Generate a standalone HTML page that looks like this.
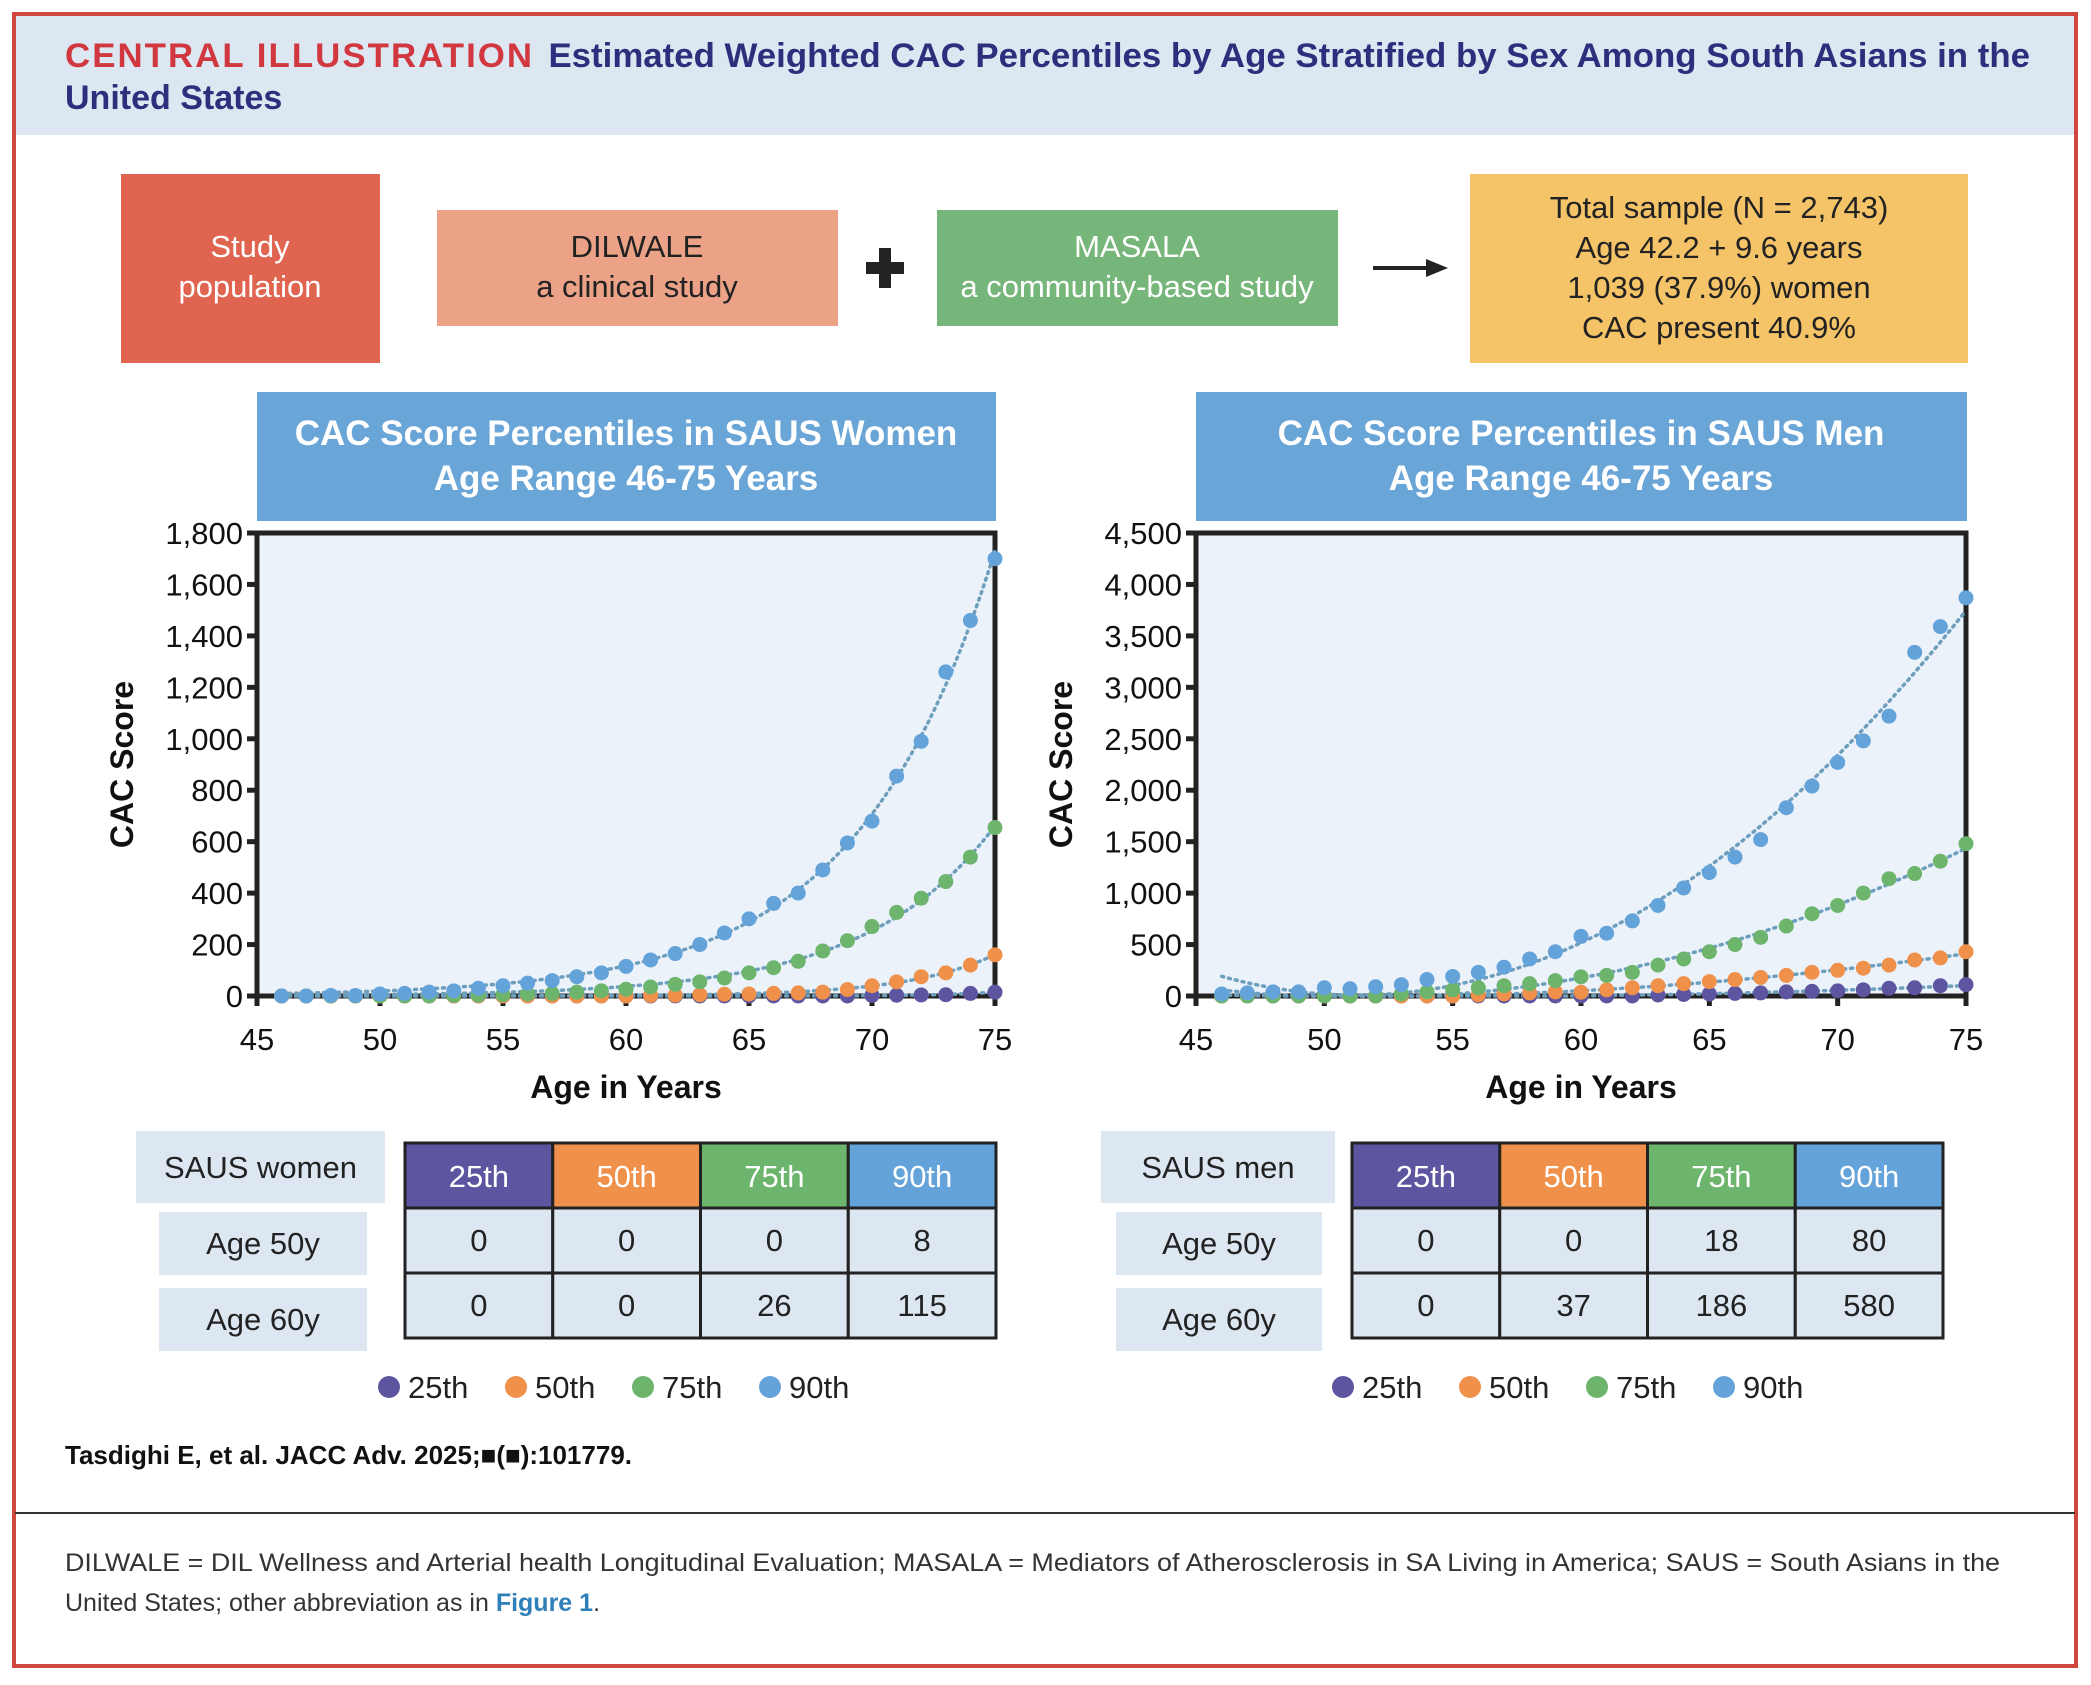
<!DOCTYPE html>
<html><head><meta charset="utf-8"><style>
html,body{margin:0;padding:0;background:#fff;}
svg{display:block;font-family:"Liberation Sans",sans-serif;}
</style></head><body>
<svg id="root" width="2091" height="1685" viewBox="0 0 2091 1685" xmlns="http://www.w3.org/2000/svg">
<rect x="0" y="0" width="2091" height="1685" fill="#fff"/>
<rect x="15" y="15" width="2060" height="120" fill="#dde7f2"/>
<rect x="14" y="14" width="2062" height="1652" fill="none" stroke="#d0473f" stroke-width="4"/>
<text x="65" y="67" font-size="34" font-weight="bold" textLength="1965" lengthAdjust="spacingAndGlyphs"><tspan fill="#d0373f" letter-spacing="2">CENTRAL ILLUSTRATION</tspan><tspan fill="#2b2f7c" dx="14">Estimated Weighted CAC Percentiles by Age Stratified by Sex Among South Asians in the</tspan></text>
<text x="65" y="109" font-size="34" font-weight="bold" fill="#2b2f7c">United States</text>

<rect x="121" y="174" width="259" height="189" fill="#e06550"/>
<text x="250" y="257" font-size="31" fill="#fff" text-anchor="middle">Study</text>
<text x="250" y="297" font-size="31" fill="#fff" text-anchor="middle">population</text>
<rect x="437" y="210" width="401" height="116" fill="#eca287"/>
<text x="637" y="257" font-size="31" fill="#222" text-anchor="middle">DILWALE</text>
<text x="637" y="297" font-size="31" fill="#222" text-anchor="middle">a clinical study</text>
<path d="M866 262h38v12h-38z M879 248h12v40h-12z" fill="#222"/>
<rect x="937" y="210" width="401" height="116" fill="#77b67a"/>
<text x="1137" y="257" font-size="31" fill="#fff" text-anchor="middle">MASALA</text>
<text x="1137" y="297" font-size="31" fill="#fff" text-anchor="middle">a community-based study</text>
<g><line x1="1373" y1="268" x2="1430" y2="268" stroke="#222" stroke-width="4"/><path d="M1448 268 L1426 259 L1426 277 Z" fill="#222"/></g>
<rect x="1470" y="174" width="498" height="189" fill="#f5c368"/>
<g font-size="31" fill="#222" text-anchor="middle">
<text x="1719" y="218">Total sample (N = 2,743)</text>
<text x="1719" y="258">Age 42.2 + 9.6 years</text>
<text x="1719" y="298">1,039 (37.9%) women</text>
<text x="1719" y="338">CAC present 40.9%</text>
</g>

<g id="charts"></g>

<text x="65" y="1464" font-size="26" font-weight="bold" fill="#111">Tasdighi E, et al. JACC Adv. 2025;■(■):101779.</text>
<line x1="15" y1="1513" x2="2075" y2="1513" stroke="#333" stroke-width="2"/>
<text x="65" y="1571" font-size="25" fill="#333" textLength="1935" lengthAdjust="spacingAndGlyphs">DILWALE = DIL Wellness and Arterial health Longitudinal Evaluation; MASALA = Mediators of Atherosclerosis in SA Living in America; SAUS = South Asians in the</text>
<text x="65" y="1611" font-size="25" fill="#333">United States; other abbreviation as in <tspan fill="#2f7fb8" font-weight="bold">Figure 1</tspan>.</text>
</svg>
<script>
const ages = [46,47,48,49,50,51,52,53,54,55,56,57,58,59,60,61,62,63,64,65,66,67,68,69,70,71,72,73,74,75];
const women25 = [0,0,0,0,0,0,0,0,0,0,0,0,0,0,0,0,0,0,0,0,0,0,0,0,2,3,4,5,10,15];
const women50 = [0,0,0,0,0,0,0,0,0,0,0,0,0,0,0,2,3,5,7,8,10,12,15,25,40,55,75,90,120,160];
const women75 = [0,0,0,0,0,0,0,2,3,5,8,10,15,20,26,35,45,55,70,90,110,135,175,215,270,325,380,445,540,655];
const women90 = [0,0,2,2,8,10,15,20,30,40,50,60,75,90,115,140,165,200,245,300,360,400,490,595,680,855,990,1260,1460,1700];
const men25 = [0,0,0,0,0,0,0,0,0,0,0,0,0,0,0,0,0,10,15,20,25,30,40,45,50,60,75,80,100,110];
const men50 = [0,0,0,0,0,0,0,0,0,0,10,20,30,40,37,60,80,100,120,140,160,180,200,230,250,270,300,350,370,430];
const men75 = [0,0,0,0,0,0,0,20,40,60,80,100,120,150,186,200,230,300,360,430,500,570,680,800,880,1000,1140,1190,1310,1480];
const men90 = [20,30,40,40,80,70,90,110,160,190,230,280,360,430,580,610,730,880,1050,1200,1350,1520,1830,2040,2270,2480,2720,3340,3590,3870];
const womenYTicks = [0,200,400,600,800,1000,1200,1400,1600,1800];
const menYTicks = [0,500,1000,1500,2000,2500,3000,3500,4000,4500];
const xTicks = [45,50,55,60,65,70,75];
const pctLabels = ["25th","50th","75th","90th"];
const womenTable = [[0,0,0,8],[0,0,26,115]];
const menTable = [[0,0,18,80],[0,37,186,580]];
const colors = ["#5e55a0","#f0914b","#6db56d","#64a3da"];
const NS = "http://www.w3.org/2000/svg";
const root = document.getElementById("charts");
function mk(tag, attrs, parent, text){const e=document.createElementNS(NS,tag);for(const k in attrs)e.setAttribute(k,attrs[k]);if(text!==undefined)e.textContent=text;(parent||root).appendChild(e);return e;}
function fmt(v){return v.toLocaleString("en-US");}
function solve(A,b){const n=b.length;for(let i=0;i<n;i++){let p=i;for(let r=i+1;r<n;r++)if(Math.abs(A[r][i])>Math.abs(A[p][i]))p=r;[A[i],A[p]]=[A[p],A[i]];[b[i],b[p]]=[b[p],b[i]];for(let r=i+1;r<n;r++){const f=A[r][i]/A[i][i];for(let c=i;c<n;c++)A[r][c]-=f*A[i][c];b[r]-=f*b[i];}}const x=new Array(n).fill(0);for(let i=n-1;i>=0;i--){let s=b[i];for(let c=i+1;c<n;c++)s-=A[i][c]*x[c];x[i]=s/A[i][i];}return x;}
function polyFit(xs,ys,deg,ws){const n=deg+1;const A=[],b=[];for(let i=0;i<n;i++){A.push(new Array(n).fill(0));b.push(0);}xs.forEach((x,k)=>{const w=ws?ws[k]:1;const t=(x-60)/15;for(let i=0;i<n;i++){b[i]+=w*ys[k]*Math.pow(t,i);for(let j=0;j<n;j++)A[i][j]+=w*Math.pow(t,i+j);}});const c=solve(A,b);return x=>{const t=(x-60)/15;let s=0;for(let i=0;i<n;i++)s+=c[i]*Math.pow(t,i);return s;};}
function expFit(xs,ys){const px=[],py=[],pw=[];xs.forEach((x,i)=>{if(ys[i]>0){px.push(x);py.push(Math.log(ys[i]));pw.push(ys[i]*ys[i]);}});const f=polyFit(px,py,1,pw);return x=>Math.exp(f(x));}

function chart(cfg){
  const g=mk("g",{});
  
  
  const L=cfg.left,R=cfg.right,T=533,B=996;
  const xS=a=>L+(a-45)/30*(R-L);
  const yS=v=>B-v/cfg.ymax*(B-T);
  const tb=mk("rect",{x:L,y:392,width:R-L+1,height:129,fill:"#6aa5d8"},g);
  
  
  const t1=mk("text",{x:(L+R)/2,y:445,"font-size":35,"font-weight":"bold",fill:"#fff","text-anchor":"middle"},g,cfg.title);
  
  
  const t2=mk("text",{x:(L+R)/2,y:490,"font-size":35,"font-weight":"bold",fill:"#fff","text-anchor":"middle"},g,"Age Range 46-75 Years");
  
  
  const pa=mk("rect",{x:L,y:T,width:R-L,height:B-T,fill:"#ecf2fa",stroke:"#222","stroke-width":5},g);
  
  
  cfg.yTicks.forEach(v=>{
    const tk=mk("line",{x1:L-10,x2:L,y1:yS(v),y2:yS(v),stroke:"#222","stroke-width":5},g);
    
    
    const tl=mk("text",{x:L-14,y:yS(v)+11,"font-size":31,fill:"#111","text-anchor":"end"},g,fmt(v));
    
    
  });
  xTicks.forEach(v=>{
    const tk=mk("line",{x1:xS(v),x2:xS(v),y1:B,y2:B+10,stroke:"#222","stroke-width":5},g);
    
    
    const tl=mk("text",{x:xS(v),y:1050,"font-size":31,fill:"#111","text-anchor":"middle"},g,v);
    
    
  });
  const xt=mk("text",{x:(L+R)/2,y:1098,"font-size":32,"font-weight":"bold",fill:"#111","text-anchor":"middle"},g,"Age in Years");
  
  
  const yt=mk("text",{x:0,y:0,"font-size":32,"font-weight":"bold",fill:"#111","text-anchor":"middle",transform:`translate(${L-124},${(T+B)/2}) rotate(-90)`},g,"CAC Score");
  
  
  cfg.series.forEach((s,si)=>{
    cfg.fitType==="exp"&&(s.f=expFit(ages,s.v));
    cfg.fitType==="poly"&&(s.f=polyFit(ages,s.v,2));
    let d="";
    for(let a=46;a<=75;a+=0.25){const v=Math.max(0,Math.min(cfg.ymax,s.f(a)));d+=(d?"L":"M")+xS(a).toFixed(1)+" "+yS(v).toFixed(1);}
    const tl=mk("path",{d:d,fill:"none",stroke:"#6d9fbd","stroke-width":3.5,"stroke-dasharray":"2 5","stroke-linecap":"round"},g);
    
    
  });
  cfg.series.forEach((s,si)=>{
    ages.forEach((a,i)=>{
      const c=mk("circle",{cx:xS(a),cy:yS(s.v[i]),r:7.5,fill:colors[si]},g);
      
      
    });
  });
  const tx=cfg.tableX, tw=591, cw=tw/4, ty=1143, rh=65;
  const lb=mk("rect",{x:cfg.labX,y:1131,width:cfg.labW,height:72,fill:"#dde7f2"},g);
  
  
  const lt=mk("text",{x:cfg.labX+cfg.labW/2,y:1178,"font-size":31,fill:"#222","text-anchor":"middle"},g,cfg.tableLabel);
  
  
  ["Age 50y","Age 60y"].forEach((r,ri)=>{
    const rb=mk("rect",{x:cfg.rowX,y:1212+ri*76,width:cfg.rowW,height:63,fill:"#dde7f2"},g);
    
    
    const rt=mk("text",{x:cfg.rowX+cfg.rowW/2,y:1254+ri*76,"font-size":31,fill:"#222","text-anchor":"middle"},g,r);
    
    
  });
  pctLabels.forEach((p,ci)=>{
    const h=mk("rect",{x:tx+ci*cw,y:ty,width:cw,height:rh,fill:colors[ci],stroke:"#222","stroke-width":3},g);
    
    
    const ht=mk("text",{x:tx+ci*cw+cw/2,y:ty+44,"font-size":31,fill:"#fff","text-anchor":"middle"},g,p);
    
    
    cfg.table.forEach((row,ri)=>{
      const c=mk("rect",{x:tx+ci*cw,y:ty+rh*(ri+1),width:cw,height:rh,fill:"#dde7f2",stroke:"#222","stroke-width":3},g);
      
      
      const ct=mk("text",{x:tx+ci*cw+cw/2,y:ty+rh*(ri+1)+43,"font-size":31,fill:"#222","text-anchor":"middle"},g,row[ci]);
      
      
    });
  });
  let lx=cfg.legX;
  pctLabels.forEach((p,ci)=>{
    const c=mk("circle",{cx:lx+11,cy:1387,r:11,fill:colors[ci]},g);
    
    
    const t=mk("text",{x:lx+30,y:1398,"font-size":31,fill:"#222"},g,p);
    
    
    lx+=127;
  });
}
chart({name:"women-chart",left:257,right:995,ymax:1800,yTicks:womenYTicks,title:"CAC Score Percentiles in SAUS Women",fitType:"exp",
  series:[{v:women25},{v:women50},{v:women75},{v:women90}],table:womenTable,tableX:405,labX:136,labW:249,rowX:159,rowW:208,tableLabel:"SAUS women",legX:378});
chart({name:"men-chart",left:1196,right:1966,ymax:4500,yTicks:menYTicks,title:"CAC Score Percentiles in SAUS Men",fitType:"poly",
  series:[{v:men25},{v:men50},{v:men75},{v:men90}],table:menTable,tableX:1352,labX:1101,labW:234,rowX:1116,rowW:206,tableLabel:"SAUS men",legX:1332});
</script>
</body></html>
